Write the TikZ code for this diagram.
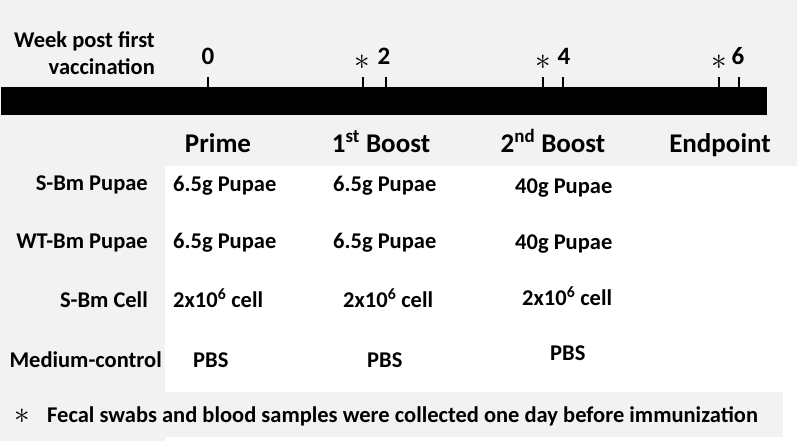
\documentclass[tikz,border=0pt]{standalone}
\usepackage{fontspec}
\setmainfont{Carlito}
\usetikzlibrary{positioning}
\definecolor{panelgray}{RGB}{242,242,242}
\newcommand{\bigast}{\scalebox{1.5}{$\ast$}}
\tikzset{
  txt/.style={font=\bfseries\fontsize{22.5}{26}\selectfont, inner sep=0pt},
  head/.style={font=\bfseries\fontsize{27}{30}\selectfont, inner sep=0pt, anchor=base},
  wk/.style={font=\bfseries\fontsize{25}{28}\selectfont, inner sep=0pt, anchor=base},
  star/.style={font=\fontsize{22}{24}\selectfont, inner sep=0pt},
  tick/.style={line width=1.4pt}
}

\begin{document}
\begin{tikzpicture}[x=1pt,y=-1pt]
\useasboundingbox (0,0) rectangle (797,441);
\fill[white] (0,0) rectangle (797,441);
\fill[panelgray] (0,0) rectangle (797,166);
\fill[panelgray] (0,0) rectangle (165,441);
\fill[panelgray] (0,392) rectangle (783,437);
% time line
\fill[black] (1,87) rectangle (767,115);
\foreach \x in {208,363,386,543,563,719,739}
  \draw[tick] (\x,77) -- (\x,87);
\node[txt, anchor=base east] (wk1) at (155,48) {Week post first};
\node[txt, anchor=base east] (wk2) at (155,75) {vaccination};
\node[wk] (w0) at (208,65) {0};
\node[wk] (w2) at (384,65) {2};
\node[wk] (w4) at (564,65) {4};
\node[wk] (w6) at (738,65) {6};
\node[star] (s2) at (362,62) {\bigast};
\node[star] (s4) at (543,62) {\bigast};
\node[star] (s6) at (719,62) {\bigast};
% column heads
\node[head] (prime) at (218,152) {Prime};
\node[head] (boost1) at (381,152) {1\textsuperscript{st} Boost};
\node[head] (boost2) at (553,152) {2\textsuperscript{nd} Boost};
\node[head] (endp) at (720,152) {Endpoint};
% row heads
\node[txt, anchor=base east] (r1) at (148,190) {S-Bm Pupae};
\node[txt, anchor=base east] (r2) at (148,248) {WT-Bm Pupae};
\node[txt, anchor=base east] (r3) at (148,307) {S-Bm Cell};
\node[txt, anchor=base east] (r4) at (162,367) {Medium-control};
% doses
\node[txt, anchor=base west] (p1) at (173,191) {6.5g Pupae};
\node[txt, anchor=base west] (p2) at (173,248) {6.5g Pupae};
\node[txt, anchor=base west] (p3) at (173,307) {2x10\textsuperscript{6} cell};
\node[txt, anchor=base west] (p4) at (193,367) {PBS};
\node[txt, anchor=base west] (a1) at (333,191) {6.5g Pupae};
\node[txt, anchor=base west] (a2) at (333,248) {6.5g Pupae};
\node[txt, anchor=base west] (a3) at (343,307) {2x10\textsuperscript{6} cell};
\node[txt, anchor=base west] (a4) at (367,367) {PBS};
\node[txt, anchor=base west] (b1) at (515,193) {40g Pupae};
\node[txt, anchor=base west] (b2) at (515,249) {40g Pupae};
\node[txt, anchor=base west] (b3) at (522,305) {2x10\textsuperscript{6} cell};
\node[txt, anchor=base west] (b4) at (550,360) {PBS};
% note
\node[star] (nstar) at (22,416) {\bigast};
\node[txt, anchor=base west] (note) at (47,422) {Fecal swabs and blood samples were collected one day before immunization};
\end{tikzpicture}
\end{document}
